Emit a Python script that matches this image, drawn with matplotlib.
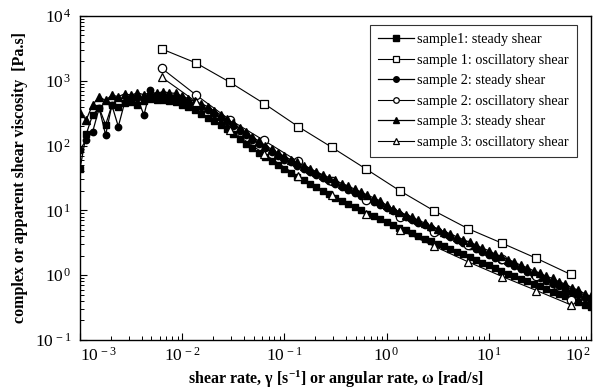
import matplotlib
matplotlib.use('Agg')
import matplotlib.pyplot as plt
from matplotlib.ticker import FixedLocator, NullFormatter

plt.rcParams['font.family'] = ['Liberation Serif', 'DejaVu Serif']
plt.rcParams['mathtext.fontset'] = 'custom'
plt.rcParams['mathtext.rm'] = 'Liberation Serif'
plt.rcParams['mathtext.it'] = 'Liberation Serif:italic'
plt.rcParams['mathtext.bf'] = 'Liberation Serif:bold'

# taux de cisaillement (essais en écoulement permanent)
rate_steady = [
    0.00100, 0.00115, 0.00133, 0.00154, 0.00178, 0.00205, 0.00237, 0.00274,
    0.00316, 0.00365, 0.00422, 0.00487, 0.00562, 0.00649, 0.00750, 0.00866,
    0.0100, 0.0115, 0.0133, 0.0154, 0.0178, 0.0205, 0.0237, 0.0274,
    0.0316, 0.0365, 0.0422, 0.0487, 0.0562, 0.0649, 0.0750, 0.0866,
    0.100, 0.115, 0.133, 0.154, 0.178, 0.205, 0.237, 0.274,
    0.316, 0.365, 0.422, 0.487, 0.562, 0.649, 0.750, 0.866,
    1.00, 1.15, 1.33, 1.54, 1.78, 2.05, 2.37, 2.74,
    3.16, 3.65, 4.22, 4.87, 5.62, 6.49, 7.50, 8.66,
    10.0, 11.5, 13.3, 15.4, 17.8, 20.5, 23.7, 27.4,
    31.6, 36.5, 42.2, 48.7, 56.2, 64.9, 75.0, 86.6,
    100.0]

s1_steady = [
    44, 150, 300, 380, 210, 420, 390, 450, 470, 430, 490, 520, 500, 510, 495, 470,
    430, 395, 350, 310, 270, 240, 205, 178, 150, 128, 106, 91, 78, 67, 58, 50,
    43, 38, 33, 29, 26, 22.8, 20, 17.8, 15.8, 13.9, 12.6, 11.3, 10.1, 8.9, 8.1, 7.3,
    6.6, 6.0, 5.4, 4.95, 4.45, 4.05, 3.65, 3.35, 3.0, 2.8, 2.55, 2.3, 2.1, 1.9, 1.72, 1.56,
    1.42, 1.28, 1.16, 1.05, 0.96, 0.88, 0.80, 0.73, 0.67, 0.61, 0.56, 0.51, 0.47, 0.43, 0.39, 0.35,
    0.32]

s2_steady = [
    86, 123, 164, 380, 146, 420, 197, 470, 520, 540, 296, 720, 600, 580, 560, 545,
    520, 470, 430, 390, 350, 305, 265, 230, 200, 170, 145, 123, 106, 92, 80, 70,
    61, 55, 49, 44, 39.5, 35, 31.5, 28.3, 25.5, 23, 20.8, 18.7, 16.8, 15.1, 13.6, 12.3,
    11.0, 9.9, 8.9, 8.0, 7.2, 6.5, 5.85, 5.3, 4.75, 4.3, 3.9, 3.5, 3.15, 2.85, 2.55, 2.3,
    2.07, 1.87, 1.69, 1.52, 1.37, 1.24, 1.12, 1.01, 0.91, 0.82, 0.74, 0.67, 0.60, 0.54, 0.49, 0.44,
    0.40]

s3_steady = [
    320, 250, 430, 560, 500, 600, 570, 630, 600, 650, 610, 660, 640, 680, 650, 640,
    580, 530, 480, 440, 400, 345, 300, 255, 225, 185, 160, 135, 118, 100, 88, 77,
    68, 61, 55, 49, 44, 39.5, 35.5, 32, 29, 26, 23.8, 21.2, 19.3, 17.2, 15.6, 14,
    12.0, 10.6, 9.6, 8.6, 7.9, 7.0, 6.4, 5.7, 5.25, 4.7, 4.35, 3.9, 3.55, 3.2, 2.95, 2.6,
    2.4, 2.12, 1.95, 1.74, 1.6, 1.42, 1.31, 1.17, 1.08, 0.96, 0.89, 0.79, 0.73, 0.64, 0.59, 0.52,
    0.47]

# fréquence angulaire (essais oscillatoires)
rate_osc = [0.0063, 0.0136, 0.0293, 0.0631, 0.136, 0.293, 0.631,
            1.36, 2.93, 6.31, 13.6, 29.3, 63.1]
s1_osc = [3100, 1890, 950, 446, 197, 93.5, 43.4, 19.9, 9.8, 5.2, 3.1, 1.82, 1.03]
s2_osc = [1560, 607, 250, 120, 57, 28, 14.5, 7.9, 4.7, 2.97, 1.75, 0.98, 0.42]
s3_osc = [1135, 478, 175, 75, 33.5, 17, 8.9, 5.0, 2.8, 1.6, 0.95, 0.58, 0.35]

fig = plt.figure(figsize=(6.09, 3.9), dpi=100)
ax = fig.add_axes([0.1314, 0.1282, 0.8390, 0.8308])

ax.plot(rate_steady, s1_steady, c='black', lw=0.9, marker='s', ms=4.2,
        label='sample1: steady shear')
ax.plot(rate_osc, s1_osc, c='black', lw=0.8, marker='s', ms=6, mfc='white',
        mew=0.9, label='sample 1: oscillatory shear')
ax.plot(rate_steady, s2_steady, c='black', lw=0.9, marker='o', ms=4.6,
        label='sample 2: steady shear')
ax.plot(rate_osc, s2_osc, c='black', lw=0.8, marker='o', ms=6, mfc='white',
        mew=0.9, label='sample 2: oscillatory shear')
ax.plot(rate_steady, s3_steady, c='black', lw=0.9, marker='^', ms=5.5,
        label='sample 3: steady shear')
ax.plot(rate_osc, s3_osc, c='black', lw=0.8, marker='^', ms=6, mfc='white',
        mew=0.9, label='sample 3: oscillatory shear')

ax.set_xscale('log')
ax.set_yscale('log')
ax.set_xlim(1e-3, 1e2)
ax.set_ylim(1e-1, 1e4)

xt = [1e-3, 1e-2, 1e-1, 1e0, 1e1, 1e2]
yt = [1e-1, 1e0, 1e1, 1e2, 1e3, 1e4]
ax.xaxis.set_major_locator(FixedLocator(xt))
ax.yaxis.set_major_locator(FixedLocator(yt))
ax.set_xticklabels([r'$\mathrm{10^{\,%d}}$' % e for e in range(-3, 3)], fontsize=12.5)
ax.set_yticklabels([r'$\mathrm{10^{\,%d}}$' % e for e in range(-1, 5)], fontsize=12.5)
minors_x = [m * 10.0**e for e in range(-3, 2) for m in range(2, 10)]
minors_y = [m * 10.0**e for e in range(-1, 4) for m in range(2, 10)]
ax.xaxis.set_minor_locator(FixedLocator(minors_x))
ax.yaxis.set_minor_locator(FixedLocator(minors_y))
ax.xaxis.set_minor_formatter(NullFormatter())
ax.yaxis.set_minor_formatter(NullFormatter())
ax.tick_params(which='major', direction='in', length=5, width=0.8)
ax.tick_params(which='minor', direction='in', length=3, width=0.7)
ax.tick_params(axis='x', which='major', pad=5)
ax.tick_params(axis='y', which='major', pad=6)
lbls = ax.get_xticklabels()
lbls[0].set_ha('left')
lbls[-1].set_ha('right')

for s in ax.spines.values():
    s.set_linewidth(1.0)

ax.set_xlabel(r'shear rate, γ [s$^{\mathbf{-1}}$] or angular rate, ω [rad/s]',
              fontsize=11.5, fontweight='bold', labelpad=3)
ax.set_ylabel('complex or apparent shear viscosity  [Pa.s]',
              fontsize=11.5, fontweight='bold', labelpad=5)

leg = ax.legend(loc='upper right', bbox_to_anchor=(0.973, 0.973), borderaxespad=0,
                fontsize=10.3, frameon=True, fancybox=False, handlelength=2.5,
                handletextpad=0.2, labelspacing=0.52, borderpad=0.6)
leg.get_frame().set_edgecolor('black')
leg.get_frame().set_linewidth(0.8)
for h in leg.legend_handles:
    h.set_markersize(4)

fig.savefig('out.png', dpi=100)
